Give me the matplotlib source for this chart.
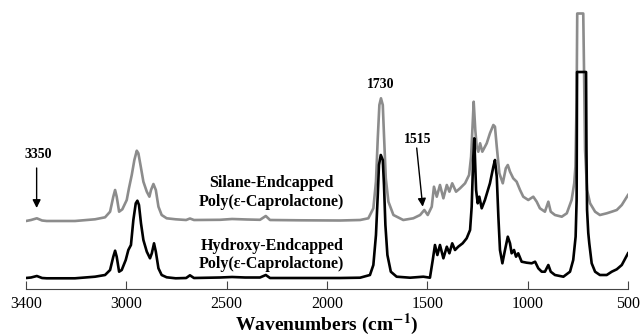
import matplotlib
matplotlib.use('Agg')
import matplotlib.pyplot as plt

plt.rcParams['font.family'] = ['Liberation Serif', 'DejaVu Serif']
plt.rcParams['mathtext.fontset'] = 'stix'

# hydroxy-endcapped PCL (black)
hydroxy_wn = [3500, 3475, 3446, 3420, 3397, 3256, 3156, 3106, 3081, 3065, 3056, 3048, 3036, 3023,
              3003, 2990, 2977, 2965, 2953, 2945, 2937, 2927, 2915, 2898, 2882, 2873, 2862, 2853,
              2840, 2824, 2799, 2754, 2702, 2683, 2663, 2533, 2473, 2408, 2334, 2305, 2284, 2134,
              1935, 1835, 1786, 1769, 1756, 1747, 1741, 1732, 1722, 1716, 1709, 1699, 1682, 1653,
              1586, 1520, 1487, 1473, 1462, 1450, 1437, 1420, 1403, 1390, 1376, 1362, 1346, 1324,
              1304, 1287, 1279, 1271, 1266, 1257, 1249, 1241, 1229, 1213, 1188, 1171, 1163, 1154,
              1146, 1138, 1126, 1113, 1099, 1088, 1080, 1068, 1058, 1047, 1030, 1005, 980, 963,
              947, 930, 914, 897, 885, 864, 822, 789, 773, 761, 756, 754, 709, 707, 704, 698, 693,
              681, 664, 640, 606, 581, 556, 531, 500]
hydroxy_abs = [0.11, 0.115, 0.13, 0.11, 0.107, 0.107, 0.123, 0.14, 0.19, 0.323, 0.383, 0.323, 0.173, 0.19,
               0.29, 0.39, 0.44, 0.69, 0.857, 0.883, 0.84, 0.657, 0.49, 0.373, 0.307, 0.357, 0.457, 0.373,
               0.207, 0.14, 0.117, 0.107, 0.11, 0.137, 0.11, 0.115, 0.12, 0.115, 0.115, 0.14, 0.11, 0.11,
               0.11, 0.113, 0.14, 0.24, 0.54, 0.94, 1.24, 1.34, 1.29, 1.04, 0.64, 0.34, 0.173, 0.123,
               0.113, 0.123, 0.113, 0.29, 0.44, 0.34, 0.44, 0.307, 0.423, 0.357, 0.457, 0.39, 0.423, 0.457,
               0.507, 0.59, 0.823, 1.323, 1.507, 0.99, 0.857, 0.923, 0.807, 0.89, 1.057, 1.223, 1.29, 1.123,
               0.723, 0.39, 0.257, 0.39, 0.523, 0.457, 0.357, 0.39, 0.323, 0.357, 0.273, 0.263, 0.257, 0.273,
               0.207, 0.173, 0.173, 0.24, 0.173, 0.14, 0.123, 0.173, 0.29, 0.523, 0.89, 2.17, 2.17, 1.39,
               0.79, 0.56, 0.457, 0.257, 0.173, 0.14, 0.14, 0.173, 0.197, 0.24, 0.357]

# silane-endcapped PCL (gray)
silane_wn = [3500, 3475, 3446, 3420, 3397, 3256, 3156, 3106, 3081, 3065, 3056, 3048, 3036, 3020,
             2998, 2987, 2973, 2960, 2948, 2940, 2928, 2915, 2898, 2885, 2877, 2865, 2853, 2840,
             2824, 2799, 2754, 2702, 2683, 2663, 2533, 2473, 2398, 2334, 2305, 2284, 2134, 1935,
             1835, 1794, 1769, 1756, 1747, 1739, 1731, 1722, 1716, 1707, 1694, 1669, 1620, 1570,
             1536, 1515, 1498, 1478, 1467, 1453, 1437, 1420, 1403, 1390, 1376, 1357, 1337, 1312,
             1292, 1282, 1274, 1269, 1261, 1254, 1246, 1237, 1226, 1204, 1188, 1171, 1163, 1154,
             1141, 1124, 1109, 1099, 1088, 1072, 1055, 1038, 1022, 997, 972, 955, 939, 914, 897,
             885, 864, 830, 805, 781, 768, 762, 756, 753, 723, 719, 714, 704, 689, 664, 640, 606,
             581, 556, 531, 500]
silane_abs = [0.11, 0.12, 0.137, 0.115, 0.11, 0.11, 0.127, 0.147, 0.203, 0.353, 0.42, 0.353, 0.203, 0.227,
              0.32, 0.437, 0.57, 0.72, 0.813, 0.787, 0.653, 0.503, 0.403, 0.353, 0.42, 0.48, 0.42, 0.253,
              0.17, 0.137, 0.127, 0.12, 0.135, 0.12, 0.122, 0.13, 0.125, 0.122, 0.16, 0.12, 0.117, 0.115,
              0.12, 0.137, 0.237, 0.503, 0.937, 1.27, 1.337, 1.27, 0.97, 0.537, 0.303, 0.17, 0.12, 0.137,
              0.17, 0.22, 0.17, 0.253, 0.453, 0.353, 0.47, 0.337, 0.47, 0.403, 0.487, 0.403, 0.437, 0.487,
              0.57, 0.753, 1.087, 1.303, 1.02, 0.853, 0.803, 0.887, 0.803, 0.887, 0.987, 1.07, 1.053, 0.853,
              0.587, 0.487, 0.637, 0.67, 0.603, 0.537, 0.503, 0.42, 0.353, 0.32, 0.353, 0.303, 0.237, 0.203, 0.303,
              0.203, 0.17, 0.153, 0.187, 0.32, 0.487, 0.653, 1.32, 2.185, 2.185, 1.6, 0.82, 0.42, 0.287, 0.203,
              0.17, 0.187, 0.203, 0.22, 0.27, 0.37]

tick_pos = [3500, 3000, 2500, 2000, 1500, 1000, 500]
tick_labels = ['3400', '3000', '2500', '2000', '1500', '1000', '500']

offset = 0.57  # vertical shift of the silane trace

fig = plt.figure(figsize=(6.41, 3.36), dpi=100)
ax = fig.add_axes([26 / 641, 47 / 336, 602 / 641, 279 / 336])

ax.plot(silane_wn, [v + offset for v in silane_abs], color='#8c8c8c', lw=1.9)
ax.plot(hydroxy_wn, hydroxy_abs, color='black', lw=1.9)

ax.set_xlim(3500, 500)
ax.set_ylim(0, 2.79)
ax.set_xticks(tick_pos)
ax.set_xticklabels(tick_labels, fontsize=11.5)
ax.tick_params(axis='x', direction='in', length=6, width=0.8, color='#444444', pad=5)
ax.set_yticks([])
for s in ['left', 'right', 'top']:
    ax.spines[s].set_visible(False)
ax.spines['bottom'].set_color('#444444')
ax.spines['bottom'].set_linewidth(0.8)
ax.set_xlabel(r'Wavenumbers (cm$^{\mathbf{-1}}$)', fontsize=14, fontweight='bold', labelpad=0)

bold = dict(fontsize=10, fontweight='bold', ha='center', va='center')
arrow = dict(arrowstyle='-|>', color='black', lw=1.0, mutation_scale=12, shrinkA=0, shrinkB=0)
ax.annotate('', xy=(3447, 0.81), xytext=(3447, 1.21), arrowprops=arrow)
ax.text(3437, 1.34, '3350', **bold)
ax.text(1731, 2.04, '1730', **bold)
ax.annotate('', xy=(1523, 0.823), xytext=(1553, 1.41), arrowprops=arrow)
ax.text(1549, 1.49, '1515', **bold)

lab = dict(fontsize=11.5, fontweight='bold', ha='center', va='center', linespacing=1.2)
ax.text(2279, 0.965, 'Silane-Endcapped\nPoly(ε-Caprolactone)', **lab)
ax.text(2275, 0.34, 'Hydroxy-Endcapped\nPoly(ε-Caprolactone)', **lab)

fig.savefig('out.png', dpi=100)
